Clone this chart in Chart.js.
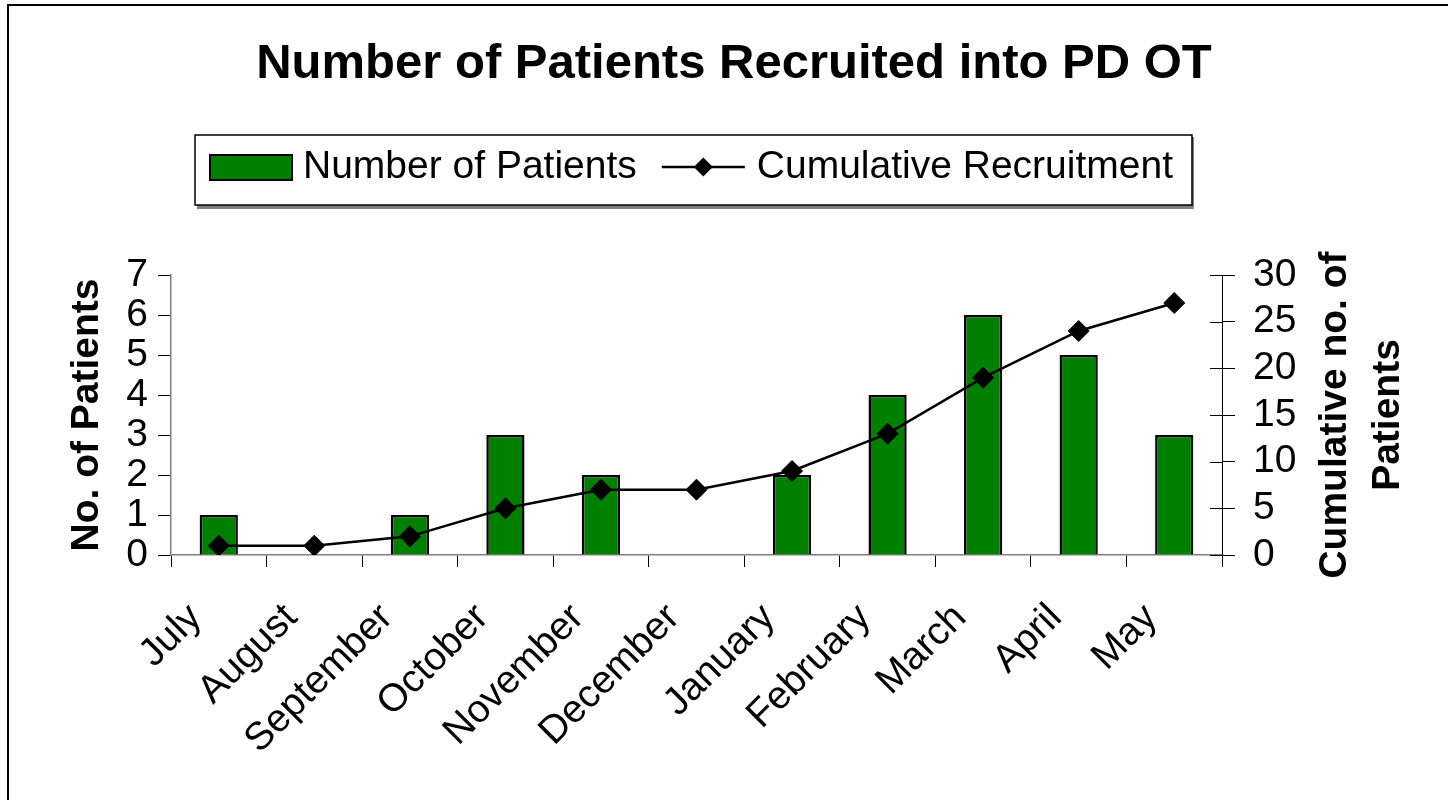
<!DOCTYPE html>
<html>
<head>
<meta charset="utf-8">
<title>Number of Patients Recruited into PD OT</title>
<script src="https://cdn.jsdelivr.net/npm/chart.js@4.4.1/dist/chart.umd.min.js"></script>
<style>
  html, body { margin: 0; padding: 0; background: #fff; }
  #wrap { position: relative; width: 1448px; height: 800px; overflow: hidden; }
  #frame {
    position: absolute; left: 7px; top: 4px; width: 1460px; height: 820px;
    border-left: 2px solid #000; border-top: 2px solid #000; pointer-events: none;
  }
</style>
</head>
<body>
<div id="wrap">
  <canvas id="comboChart" width="1448" height="800"></canvas>
  <div id="frame"></div>
</div>
<script>
var months = ["July", "August", "September", "October", "November", "December",
  "January", "February", "March", "April", "May"];
var patients = [1, 0, 1, 3, 2, 0, 2, 4, 6, 5, 3];
var cumulative = [1, 1, 2, 5, 7, 7, 9, 13, 19, 24, 27];
var leftTicks = [0, 1, 2, 3, 4, 5, 6, 7];
var rightTicks = [0, 5, 10, 15, 20, 25, 30];
var seriesNames = ["Number of Patients", "Cumulative Recruitment"];
var rightTitleLines = ["Cumulative no. of", "Patients"];

var FONT = "Arial, 'Liberation Sans', sans-serif";
Chart.defaults.font.family = FONT;
Chart.defaults.color = "#000";

var LEGEND_FONT = 39;
var LEGEND_BOX = 63.5; // invisible legend box, symbols are drawn below

// legend frame + symbols, drawn around chart.js legend items
var legendExtras = {
  id: "legendExtras",
  beforeDraw: function (chart) {
    var boxes = chart.legend.legendHitBoxes;
    if (!boxes || !boxes.length) return;
    var first = boxes[0], last = boxes[boxes.length - 1];
    var mid = first.top + first.height / 2;
    var textStart = first.left + LEGEND_BOX + LEGEND_FONT / 2;
    var x0 = textStart - 108, x1 = last.left + last.width + 19;
    var y0 = mid - 32, y1 = mid + 38;
    var c = chart.ctx;
    c.save();
    c.fillStyle = "#808080";
    c.fillRect(x0 + 2, y0 + 2, x1 - x0, y1 - y0 + 2);
    c.fillStyle = "#fff";
    c.fillRect(x0, y0, x1 - x0, y1 - y0);
    c.strokeStyle = "#000";
    c.lineWidth = 1.5;
    c.strokeRect(x0, y0, x1 - x0, y1 - y0);
    c.restore();
  },
  afterDraw: function (chart) {
    var boxes = chart.legend.legendHitBoxes;
    if (!boxes || boxes.length < 2) return;
    var c = chart.ctx;
    var a = boxes[0], b = boxes[1];
    var ya = a.top + a.height / 2, yb = b.top + b.height / 2;
    var ta = a.left + LEGEND_BOX + LEGEND_FONT / 2;
    var tb = b.left + LEGEND_BOX + LEGEND_FONT / 2;
    c.save();
    // bar swatch
    c.fillStyle = "#008000";
    c.strokeStyle = "#000";
    c.lineWidth = 2;
    c.fillRect(ta - 93, ya - 12, 82, 25);
    c.strokeRect(ta - 93, ya - 12, 82, 25);
    // line + diamond
    c.lineWidth = 2.5;
    c.beginPath();
    c.moveTo(tb - 95, yb);
    c.lineTo(tb - 12, yb);
    c.stroke();
    var cx = tb - 53.5, r = 9.5;
    c.fillStyle = "#000";
    c.beginPath();
    c.moveTo(cx - r, yb); c.lineTo(cx, yb - r); c.lineTo(cx + r, yb); c.lineTo(cx, yb + r);
    c.closePath();
    c.fill();
    c.restore();
  }
};

// right axis: inward half of the cross ticks, and the two-line title
var rightAxisExtras = {
  id: "rightAxisExtras",
  afterDraw: function (chart) {
    var c = chart.ctx, area = chart.chartArea, s = chart.scales.y1;
    c.save();
    c.strokeStyle = "#000";
    c.lineWidth = 1;
    s.ticks.forEach(function (t) {
      var y = Math.round(s.getPixelForValue(t.value)) + 0.5;
      c.beginPath();
      c.moveTo(area.right - 12, y);
      c.lineTo(area.right, y);
      c.stroke();
    });
    var cy = (area.top + area.bottom) / 2;
    c.font = "bold 39px " + FONT;
    c.fillStyle = "#000";
    c.textAlign = "center";
    c.textBaseline = "middle";
    rightTitleLines.forEach(function (line, i) {
      c.save();
      c.translate(area.right + 113 + i * 53, cy);
      c.rotate(-Math.PI / 2);
      c.fillText(line, 0, 0);
      c.restore();
    });
    c.restore();
  }
};

var ctx = document.getElementById("comboChart").getContext("2d");
var myChart = new Chart(ctx, {
  type: "bar",
  data: {
    labels: months,
    datasets: [
      {
        type: "line",
        label: seriesNames[1],
        data: cumulative,
        yAxisID: "y1",
        borderColor: "#000",
        borderWidth: 2.5,
        tension: 0,
        pointStyle: "rectRot",
        pointRadius: 10.5,
        pointBackgroundColor: "#000",
        pointBorderColor: "#000",
        pointBorderWidth: 1,
        order: 0,
      },
      {
        type: "bar",
        label: seriesNames[0],
        data: patients,
        yAxisID: "y",
        backgroundColor: "#008000",
        borderColor: "#000",
        borderWidth: 2.5,
        barPercentage: 0.4,
        categoryPercentage: 1,
        order: 1,
      },
    ],
  },
  options: {
    responsive: false,
    animation: false,
    layout: { padding: { left: 30, right: 10, top: 0, bottom: 0 } },
    plugins: {
      tooltip: { enabled: false },
      title: {
        display: true,
        text: "Number of Patients Recruited into PD OT",
        color: "#000",
        font: { size: 49, weight: "bold" },
        padding: { top: 35, bottom: 16.7 },
      },
      subtitle: {
        // spacer between legend and plot
        display: true,
        text: "",
        weight: 500,
        font: { size: 10 },
        padding: { top: 0, bottom: 66.5 },
      },
      legend: {
        position: "top",
        fullSize: false,
        labels: {
          boxWidth: LEGEND_BOX,
          boxHeight: 25,
          padding: 37,
          color: "#000",
          font: { size: LEGEND_FONT },
          generateLabels: function () {
            return seriesNames.map(function (name, i) {
              return {
                text: name,
                fillStyle: "rgba(0,0,0,0)",
                strokeStyle: "rgba(0,0,0,0)",
                lineWidth: 0,
                hidden: false,
                datasetIndex: i === 0 ? 1 : 0,
              };
            });
          },
        },
      },
    },
    scales: {
      x: {
        offset: true,
        grid: { offset: true, drawOnChartArea: false, tickLength: 12, tickColor: "#000", tickWidth: 1 },
        border: { color: "#808080", width: 1.5 },
        ticks: {
          autoSkip: false, minRotation: 45, maxRotation: 45,
          padding: 28, labelOffset: -23, color: "#000", font: { size: 39 },
        },
        afterFit: function (s) { s.height = 245; },
      },
      y: {
        position: "left",
        min: leftTicks[0],
        max: leftTicks[leftTicks.length - 1],
        ticks: { stepSize: leftTicks[1] - leftTicks[0], autoSkip: false, padding: 10, color: "#000", font: { size: 39 } },
        grid: { drawOnChartArea: false, tickLength: 13, tickColor: "#000" },
        border: { color: "#808080", width: 1.5 },
        title: {
          display: true,
          text: "No. of Patients",
          color: "#000",
          font: { size: 39, weight: "bold" },
          padding: { top: 34, bottom: 0 },
        },
        afterFit: function (s) { s.width = 141; },
      },
      y1: {
        position: "right",
        min: rightTicks[0],
        max: rightTicks[rightTicks.length - 1],
        ticks: { stepSize: rightTicks[1] - rightTicks[0], autoSkip: false, padding: 18, color: "#000", font: { size: 39 } },
        grid: { drawOnChartArea: false, tickLength: 13, tickColor: "#000" },
        border: { color: "#000", width: 1 },
        afterFit: function (s) { s.width = 216; },
      },
    },
  },
  plugins: [legendExtras, rightAxisExtras],
});
</script>
</body>
</html>
